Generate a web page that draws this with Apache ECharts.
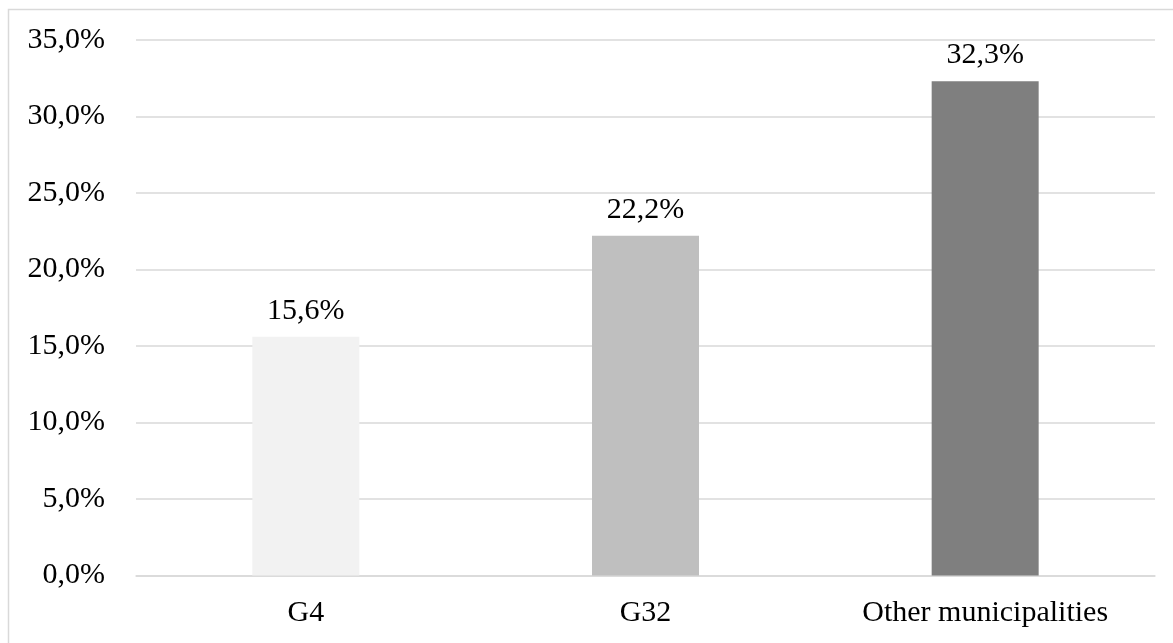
<!DOCTYPE html>
<html>
<head>
<meta charset="utf-8">
<script src="https://cdn.jsdelivr.net/npm/echarts@6/dist/echarts.min.js"></script>
<style>
  html, body { margin: 0; padding: 0; background: #ffffff; }
  #chart { width: 1173px; height: 643px; }
</style>
</head>
<body>
<div id="chart"></div>
<script>
// data
const categories = ['G4', 'G32', 'Other municipalities']
const shares = [15.6, 22.2, 32.3]
const barColors = ['#f2f2f2', '#bfbfbf', '#7f7f7f']

const fontFamily = '"Liberation Serif", "Times New Roman", serif'

// 15.6 -> "15,6%"
function pct(v) {
  return Number(v).toFixed(1).replace('.', ',') + '%'
}

const chart = echarts.init(document.getElementById('chart'))
chart.setOption({
  backgroundColor: '#ffffff',
  animation: false,
  graphic: [{
    // chart frame, cut off on the right and bottom like the original
    type: 'rect',
    shape: { x: 8.5, y: 9.5, width: 2000, height: 2000 },
    style: { fill: 'none', stroke: '#d9d9d9', lineWidth: 1.5 },
    silent: true
  }],
  grid: {
    left: 136,
    right: 18,
    top: 40,
    bottom: 67.5,
    containLabel: false
  },
  xAxis: {
    type: 'category',
    data: categories,
    axisTick: { show: false },
    axisLine: { show: true, lineStyle: { color: '#d9d9d9', width: 1.5 } },
    axisLabel: {
      margin: 23,
      color: '#000000',
      fontFamily: fontFamily,
      fontSize: 30
    }
  },
  yAxis: {
    type: 'value',
    min: 0,
    max: 35,
    interval: 5,
    axisLine: { show: false },
    axisTick: { show: false },
    splitLine: { lineStyle: { color: '#d9d9d9', width: 1.5 } },
    axisLabel: {
      margin: 31,
      color: '#000000',
      fontFamily: fontFamily,
      fontSize: 30,
      formatter: pct
    }
  },
  series: [{
    type: 'bar',
    barWidth: '31.5%',
    data: shares.map((v, i) => ({ value: v, itemStyle: { color: barColors[i] } })),
    label: {
      show: true,
      position: 'top',
      distance: 11,
      color: '#000000',
      fontFamily: fontFamily,
      fontSize: 30,
      formatter: p => pct(p.value)
    }
  }]
})
</script>
</body>
</html>
